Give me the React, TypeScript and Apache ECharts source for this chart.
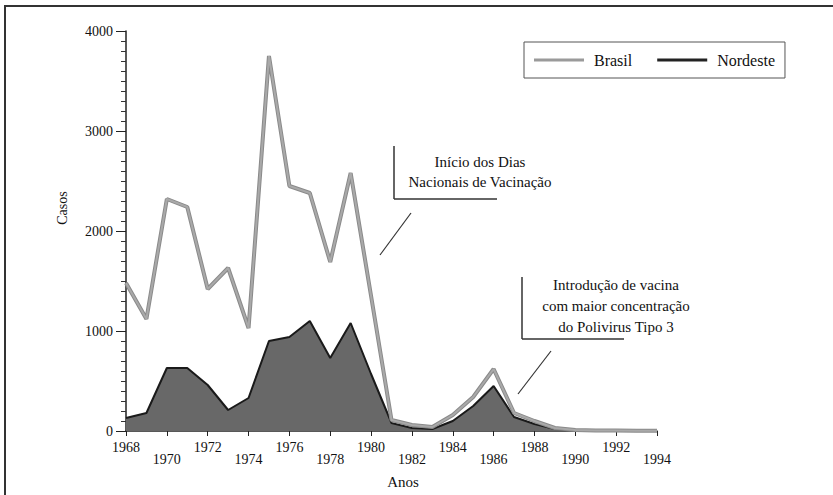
import React, { useEffect, useRef } from "react";
import * as echarts from "echarts";

const years = [1968,1969,1970,1971,1972,1973,1974,1975,1976,1977,1978,1979,1980,1981,1982,1983,1984,1985,1986,1987,1988,1989,1990,1991,1992,1993,1994];
const brasil = [1480,1120,2320,2240,1420,1630,1030,3750,2450,2380,1690,2580,1350,110,60,40,160,340,620,180,100,30,10,5,5,3,2];
const nordeste = [130,180,630,630,460,210,330,900,940,1100,730,1080,570,80,30,20,100,250,450,140,70,20,10,5,3,2,2];
const yTicks = [0, 1000, 2000, 3000, 4000];
const legendNames = ["Brasil", "Nordeste"];
const note1 = ["Início dos Dias", "Nacionais de Vacinação"];
const note2 = ["Introdução de vacina", "com maior concentração", "do Polivirus Tipo 3"];

const FONT = "Liberation Serif";

export default function App() {
  const ref = useRef<HTMLDivElement>(null);
  useEffect(() => {
    if (!ref.current) return;
    const chart = echarts.init(ref.current, null, { renderer: "svg" });
    const pairs = (arr: number[]) => years.map((y, i) => [y, arr[i]]);
    const txt = (x: number, y: number, s: string, size = 15, extra: any = {}) => ({
      type: "text",
      x,
      y,
      z: 20,
      style: { text: s, fill: "#111", font: `${size}px "${FONT}"`, textAlign: "center", textVerticalAlign: "middle", ...extra },
    });
    chart.setOption({
      animation: false,
      backgroundColor: "#fff",
      grid: { left: 126, right: 176, top: 31, bottom: 64 },
      legend: {
        left: 524,
        top: 42,
        width: 262,
        padding: [10, 10, 10, 10],
        borderColor: "#555",
        borderWidth: 1,
        itemGap: 25,
        itemWidth: 50,
        itemHeight: 3,
        icon: "rect",
        textStyle: { fontFamily: FONT, fontSize: 16, color: "#111", padding: [0, 0, 0, 5] },
        data: [
          { name: legendNames[0], itemStyle: { color: "#9a9a9a" } },
          { name: legendNames[1], itemStyle: { color: "#222" } },
        ],
      },
      xAxis: {
        type: "value",
        min: 1968,
        max: 1994,
        interval: 2,
        axisLine: { lineStyle: { color: "#222", width: 1.5 } },
        axisTick: { length: 5, lineStyle: { color: "#222" } },
        splitLine: { show: false },
        axisLabel: {
          margin: 9,
          fontFamily: FONT,
          fontSize: 14,
          color: "#111",
          formatter: (v: number) => (((v - 1968) / 2) % 2 === 0 ? `{u|${v}}` : `{l|${v}}`),
          rich: {
            u: { fontFamily: FONT, fontSize: 14, color: "#111", padding: [0, 0, 0, 0] },
            l: { fontFamily: FONT, fontSize: 14, color: "#111", padding: [12, 0, 0, 0] },
          },
        },
      },
      yAxis: {
        type: "value",
        min: yTicks[0],
        max: yTicks[yTicks.length - 1],
        interval: 1000,
        axisLine: { show: true, lineStyle: { color: "#222", width: 1.5 } },
        axisTick: { show: true, length: 10, lineStyle: { color: "#222" } },
        minorTick: { show: true, splitNumber: 10, length: 5, lineStyle: { color: "#333" } },
        splitLine: { show: false },
        axisLabel: { margin: 13, fontFamily: FONT, fontSize: 14, color: "#111", formatter: (v: number) => String(v) },
      },
      series: [
        {
          name: legendNames[1],
          type: "line",
          data: pairs(nordeste),
          showSymbol: false,
          symbol: "none",
          z: 3,
          itemStyle: { color: "#222" },
          lineStyle: { color: "#1a1a1a", width: 2 },
          areaStyle: { color: "#686868", opacity: 1 },
        },
        {
          name: legendNames[0],
          type: "line",
          data: pairs(brasil),
          showSymbol: false,
          symbol: "none",
          z: 4,
          itemStyle: { color: "#9a9a9a" },
          lineStyle: { color: "#8a8a8a", width: 4 },
        },
        {
          name: "Brasil-centro",
          type: "line",
          data: pairs(brasil),
          showSymbol: false,
          symbol: "none",
          z: 5,
          silent: true,
          lineStyle: { color: "#a9a9a9", width: 2 },
        },
      ],
      graphic: [
        { type: "rect", shape: { x: 5, y: 6, width: 900, height: 600 }, style: { fill: "none", stroke: "#333", lineWidth: 2 }, z: 1 },
        { ...txt(62, 208, "Casos", 14), rotation: Math.PI / 2 },
        txt(403, 482, "Anos", 15),
        // annotation 1
        { type: "line", shape: { x1: 394, y1: 146, x2: 394, y2: 199 }, style: { stroke: "#333", lineWidth: 1.5 }, z: 20 },
        { type: "line", shape: { x1: 394, y1: 199, x2: 497, y2: 199 }, style: { stroke: "#333", lineWidth: 1.5 }, z: 20 },
        { type: "line", shape: { x1: 411, y1: 213, x2: 380, y2: 255 }, style: { stroke: "#333", lineWidth: 1.2 }, z: 20 },
        txt(480, 162, note1[0]),
        txt(480, 182, note1[1]),
        // annotation 2
        { type: "line", shape: { x1: 522, y1: 277, x2: 522, y2: 339 }, style: { stroke: "#333", lineWidth: 1.5 }, z: 20 },
        { type: "line", shape: { x1: 522, y1: 339, x2: 624, y2: 339 }, style: { stroke: "#333", lineWidth: 1.5 }, z: 20 },
        { type: "line", shape: { x1: 551, y1: 351, x2: 518, y2: 394 }, style: { stroke: "#333", lineWidth: 1.2 }, z: 20 },
        txt(616, 285, note2[0]),
        txt(616, 306, note2[1]),
        txt(616, 327, note2[2]),
      ],
    });
    return () => chart.dispose();
  }, []);
  return <div ref={ref} style={{ position: "fixed", left: 0, top: 0, width: 833, height: 495, background: "#fff" }} />;
}
